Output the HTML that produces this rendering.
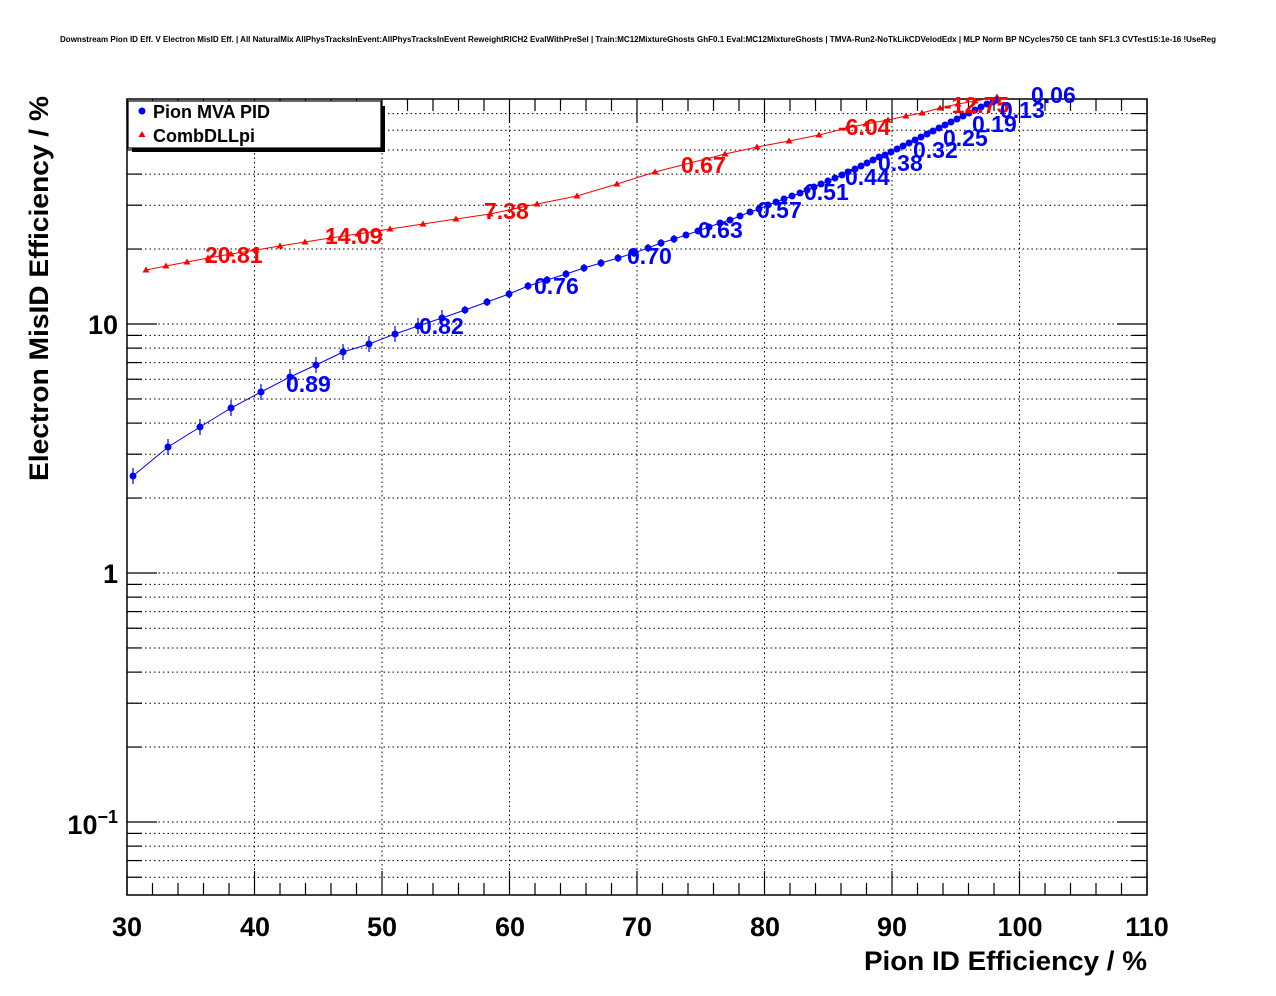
<!DOCTYPE html>
<html><head><meta charset="utf-8"><style>
html,body{margin:0;padding:0;background:#fff;}
svg{display:block;font-family:"Liberation Sans",Arial,sans-serif;}
</style></head><body>
<svg id="s" width="1276" height="996" viewBox="0 0 1276 996" xmlns="http://www.w3.org/2000/svg">
<rect width="1276" height="996" fill="#fff"/>
<text x="638" y="42" font-size="8" font-weight="bold" text-anchor="middle" textLength="1156" lengthAdjust="spacingAndGlyphs">Downstream Pion ID Eff. V Electron MisID Eff. | All NaturalMix AllPhysTracksInEvent:AllPhysTracksInEvent ReweightRICH2 EvalWithPreSel | Train:MC12MixtureGhosts GhF0.1 Eval:MC12MixtureGhosts | TMVA-Run2-NoTkLikCDVelodEdx | MLP Norm BP NCycles750 CE tanh SF1.3 CVTest15:1e-16 !UseReg</text>
<g id="grid"></g>
<g id="ticks"></g>
<rect x="127" y="99" width="1020" height="796" fill="none" stroke="#000" stroke-width="1.5"/>
<g id="data"></g>
<g font-size="27" font-weight="bold" text-anchor="middle">
<text x="127" y="936">30</text><text x="255" y="936">40</text><text x="382" y="936">50</text><text x="510" y="936">60</text><text x="637" y="936">70</text><text x="765" y="936">80</text><text x="892" y="936">90</text><text x="1020" y="936">100</text><text x="1147" y="936">110</text>
</g>
<g font-size="27" font-weight="bold" text-anchor="end">
<text x="118" y="334">10</text><text x="118" y="583">1</text>
<text x="118" y="834">10<tspan font-size="18" dy="-11">−1</tspan></text>
</g>
<text x="1147" y="970" font-size="27" font-weight="bold" text-anchor="end" textLength="283" lengthAdjust="spacingAndGlyphs">Pion ID Efficiency / %</text>
<text transform="translate(48,481) rotate(-90)" font-size="27" font-weight="bold" textLength="385" lengthAdjust="spacingAndGlyphs">Electron MisID Efficiency / %</text>
<rect x="132" y="106" width="253" height="46" fill="#000"/>
<rect x="128" y="101" width="253" height="47" fill="#fff" stroke="#000" stroke-width="1.2"/>
<circle cx="142" cy="111" r="3.5" fill="#00f"/>
<polygon points="142,131 138.5,137 145.5,137" fill="#f00"/>
<text x="153" y="118" font-size="18" font-weight="bold">Pion MVA PID</text>
<text x="153" y="142" font-size="18" font-weight="bold">CombDLLpi</text>
</svg>
<script>
var NS="http://www.w3.org/2000/svg";
function el(p,t,a){var e=document.createElementNS(NS,t);for(var k in a)e.setAttribute(k,a[k]);document.getElementById(p).appendChild(e);return e;}
function Y(v){return 324-249*Math.log10(v/10);}
function X(v){return 127+12.75*(v-30);}
for(var i=1;i<8;i++){var x=X(30+10*i);el("grid","line",{x1:x,y1:99,x2:x,y2:895,stroke:"#000","stroke-width":1,"stroke-dasharray":"1.5,3"});}
var decs=[0.01,0.1,1,10];
decs.forEach(function(d){for(var m=1;m<=9;m++){var v=d*m,y=Y(v);if(y<100||y>894)continue;
el("grid","line",{x1:127,y1:y,x2:1147,y2:y,stroke:"#000","stroke-width":1,"stroke-dasharray":"1.5,3"});
var L=(m==1)?30:15;
el("ticks","line",{x1:127,y1:y,x2:127+L,y2:y,stroke:"#000","stroke-width":1.2});
el("ticks","line",{x1:1147,y1:y,x2:1147-L,y2:y,stroke:"#000","stroke-width":1.2});}});
for(var v=30;v<=110;v+=2){var x=X(v),L=(v%10==0)?24:12;
el("ticks","line",{x1:x,y1:895,x2:x,y2:895-L,stroke:"#000","stroke-width":1.2});
el("ticks","line",{x1:x,y1:99,x2:x,y2:99+L,stroke:"#000","stroke-width":1.2});}
var B=[[133,476],[168,447],[200,427],[231,408],[261,392],[290,377],[316,365],[343,352],[369,344],[395,334],[418,326],[442,318],[465,310],[487,302],[509,294],[528,286],[547,280],[566,274],[584,268],[601,263],[618,258],[634,253],[648,248],[661,243],[674,239],[686,235],[698,231],[709,227],[720,223],[730,220],[740,216],[750,212],[759,209],[768,205],[776,202],[784,199],[792,196],[800,193],[807,190],[814,187],[821,184],[828,181],[835,178],[842,175],[848,172],[855,169],[861,166],[867,163],[873,160],[879,157],[885,155],[891,152],[897,149],[903,146],[909,143],[915,140],[921,137],[927,134],[933,131],[939,128],[945,125],[951,122],[957,119],[963,116],[969,113],[975,110],[981,107],[987,104],[993,102],[997,100]];
var R=[[146,270],[166,266],[187,262],[208,258],[231,254],[256,250],[280,246],[305,242],[330,238],[358,234],[390,229],[423,224],[456,219],[490,214],[537,204],[577,196],[617,184],[655,172],[725,154],[757,147],[789,141],[819,135],[847,128],[866,124],[888,120],[906,116],[922,113],[940,108],[958,104],[975,101],[997,97]];
el("data","polyline",{points:R.map(function(p){return p.join(",")}).join(" "),fill:"none",stroke:"#f00","stroke-width":1});
R.forEach(function(p){el("data","polygon",{points:(p[0])+","+(p[1]-3.5)+" "+(p[0]-3.5)+","+(p[1]+2.5)+" "+(p[0]+3.5)+","+(p[1]+2.5),fill:"#f00"});});
el("data","polyline",{points:B.map(function(p){return p.join(",")}).join(" "),fill:"none",stroke:"#00f","stroke-width":1});
B.forEach(function(p,i){var e=i<12?8:(i<25?4:2);
el("data","line",{x1:p[0],y1:p[1]-e,x2:p[0],y2:p[1]+e,stroke:"#00f","stroke-width":1.2});
el("data","circle",{cx:p[0],cy:p[1],r:3.5,fill:"#00f"});});
var RL=[["20.81",205,255],["14.09",325,236],["7.38",484,211],["0.67",681,165],["-6.04",838,127],["-12.75",944,105]];
var BL=[["0.89",286,384],["0.82",419,326],["0.76",534,286],["0.70",627,256],["0.63",698,230],["0.57",757,210],["0.51",804,192],["0.44",845,177],["0.38",878,163],["0.32",913,150],["0.25",943,138],["0.19",972,124],["0.13",1000,110],["0.06",1031,95]];
RL.forEach(function(l){var t=el("data","text",{x:l[1],y:l[2]+8,fill:"#f00","font-size":23,"font-weight":"bold"});t.textContent=l[0];});
BL.forEach(function(l){var t=el("data","text",{x:l[1],y:l[2]+8,fill:"#00f","font-size":23,"font-weight":"bold"});t.textContent=l[0];});
</script>
</body></html>
